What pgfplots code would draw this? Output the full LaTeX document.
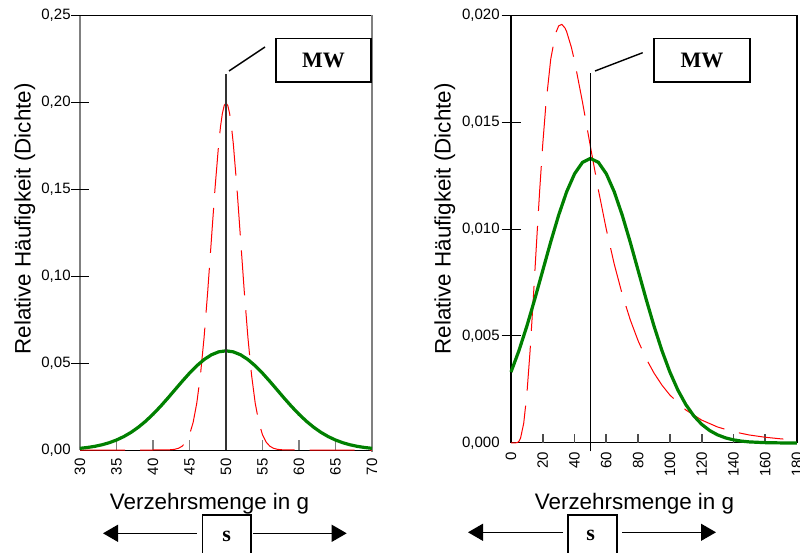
\documentclass[border=0pt]{standalone}
\usepackage{fontspec}
\setmainfont{Liberation Sans}
\newfontfamily\tnr{Liberation Serif}
\usepackage{pgfplots}
\pgfplotsset{compat=1.18}
\usetikzlibrary{arrows.meta}
\definecolor{dgreen}{RGB}{0,128,0}
\definecolor{fgray}{RGB}{128,128,128}

\pgfplotstableread{
x y
30 0.000962
31 0.001432
32 0.002089
33 0.002986
34 0.004181
35 0.005737
36 0.007713
37 0.010159
38 0.013112
39 0.016580
40 0.020542
41 0.024938
42 0.029661
43 0.034567
44 0.039470
45 0.044159
46 0.048407
47 0.051991
48 0.054711
49 0.056413
50 0.056991
51 0.056413
52 0.054711
53 0.051991
54 0.048407
55 0.044159
56 0.039470
57 0.034567
58 0.029661
59 0.024938
60 0.020542
61 0.016580
62 0.013112
63 0.010159
64 0.007713
65 0.005737
66 0.004181
67 0.002986
68 0.002089
69 0.001432
70 0.000962
}\leftgreen

\pgfplotstableread{
x y
30 0
35 0
40 0
41 0.000008
42 0.000067
42.5 0.000176
43 0.000436
43.5 0.001015
44 0.002216
44.5 0.004547
45 0.008764
45.5 0.015870
46 0.026995
46.5 0.043139
47 0.064759
47.5 0.091325
48 0.120985
48.5 0.150569
49 0.176033
49.25 0.185927
49.5 0.193334
49.75 0.197919
50 0.199471
50.25 0.197919
50.5 0.193334
50.75 0.185927
51 0.176033
51.5 0.150569
52 0.120985
52.5 0.091325
53 0.064759
53.5 0.043139
54 0.026995
54.5 0.015870
55 0.008764
55.5 0.004547
56 0.002216
56.5 0.001015
57 0.000436
57.5 0.000176
58 0.000067
59 0.000008
60 0
65 0
70 0
}\leftred

\pgfplotstableread{
x y
0 0.003316
5 0.004317
10 0.005467
15 0.006733
20 0.008066
25 0.009397
30 0.010648
35 0.011735
40 0.012579
45 0.013115
50 0.013298
55 0.013115
60 0.012579
65 0.011735
70 0.010648
75 0.009397
80 0.008066
85 0.006733
90 0.005467
95 0.004317
100 0.003316
105 0.002477
110 0.001800
115 0.001272
120 0.000874
125 0.000584
130 0.000380
135 0.000240
140 0.000148
145 0.000088
150 0.000051
160 0.000016
170 0.000004
180 0.000001
}\rightgreen

\pgfplotstableread{
x y
0 0
2 0
4 0.000019
5 0.000079
6 0.000223
8 0.000919
10 0.002294
12 0.004293
14 0.006703
16 0.009263
18 0.011743
20 0.013975
22 0.015856
25 0.017931
28 0.019127
30 0.019491
32 0.019562
34 0.019389
35 0.019225
38 0.018490
40 0.017846
45 0.015927
50 0.013846
55 0.011826
60 0.009979
65 0.008352
70 0.006953
75 0.005769
80 0.004777
85 0.003952
90 0.003269
95 0.002705
100 0.002241
110 0.001544
120 0.001071
130 0.000748
140 0.000527
150 0.000374
160 0.000268
170 0.000193
180 0.000141
}\rightred

\pgfplotsset{
  myaxis/.style={
    scale only axis, anchor=south west,
    axis x line*=bottom, axis y line*=left,
    enlargelimits=false, clip=false,
    major tick length=0pt,
    tick style={draw=none},
    scaled x ticks=false, scaled y ticks=false,
    tick label style={font=\fontsize{7.5}{9}\selectfont},
    /pgf/number format/assume math mode=true,
    xticklabel style={rotate=90, anchor=east, inner sep=0pt},
    yticklabel style={anchor=east, inner sep=0pt,
      /pgf/number format/fixed, /pgf/number format/fixed zerofill,
      /pgf/number format/use comma},
  },
  redcurve/.style={red, line width=0.5pt, dash pattern=on 22.5pt off 7.5pt},
  greencurve/.style={dgreen, line width=1.6pt},
}

\begin{document}
\begin{tikzpicture}[x=0.5pt,y=0.5pt]
\coordinate (A1) at (80,103);
\coordinate (A2) at (511,110);

% ---------- left chart ----------
\begin{axis}[myaxis, at={(A1)}, width=146pt, height=217.5pt,
  xmin=30, xmax=70, ymin=0, ymax=0.25,
  xtick={30,35,40,45,50,55,60,65,70},
  ytick={0,0.05,0.1,0.15,0.2,0.25},
  yticklabel style={/pgf/number format/precision=2},
  xticklabel shift=4pt, yticklabel shift=4.5pt,
  x axis line style={black, line width=0.5pt},
  y axis line style={draw=none}]
\draw[fgray, line width=1pt] (rel axis cs:0,0) -- (rel axis cs:0,1);
\draw[black, line width=0.5pt] (rel axis cs:0,1) -- (rel axis cs:1,1);
\draw[fgray, line width=1pt] ([yshift=-1pt]rel axis cs:1,0) -- (rel axis cs:1,1);
\pgfplotsinvokeforeach{35,40,45,55,60,65}{
  \draw[fgray, line width=0.9pt] (axis cs:#1,0) -- ([yshift=5pt]axis cs:#1,0);}
\pgfplotsinvokeforeach{0.05,0.1,0.15,0.2,0.25}{
  \draw[black, line width=0.5pt] ([xshift=-4.25pt]axis cs:30,#1) -- ([xshift=4.25pt]axis cs:30,#1);}
\addplot[redcurve] table[x=x,y=y] {\leftred};
\addplot[greencurve] table[x=x,y=y] {\leftgreen};
\addplot[black!80, line width=1pt] coordinates {(50,0) (50,0.2163)};
\end{axis}

% ---------- right chart ----------
\begin{axis}[myaxis, at={(A2)}, width=143pt, height=214pt,
  xmin=0, xmax=180, ymin=0, ymax=0.02,
  xtick={0,20,40,60,80,100,120,140,160,180},
  ytick={0,0.005,0.01,0.015,0.02},
  yticklabel style={/pgf/number format/precision=3},
  xticklabel shift=4.2pt, yticklabel shift=5.5pt,
  x axis line style={black, line width=0.5pt},
  y axis line style={black, line width=0.7pt}]
\draw[black, line width=0.5pt] (rel axis cs:0,1) -- (rel axis cs:1,1);
\draw[black, line width=0.7pt] (rel axis cs:1,0) -- (rel axis cs:1,1);
\pgfplotsinvokeforeach{20,40,60,80,100,120,140,160}{
  \draw[black!70, line width=0.9pt] (axis cs:#1,0) -- ([yshift=4.5pt]axis cs:#1,0);}
\pgfplotsinvokeforeach{0.005,0.01,0.015,0.02}{
  \draw[black, line width=0.5pt] ([xshift=-4.75pt]axis cs:0,#1) -- ([xshift=4.75pt]axis cs:0,#1);}
\addplot[redcurve] table[x=x,y=y] {\rightred};
\addplot[greencurve] table[x=x,y=y] {\rightgreen};
\addplot[black, line width=0.9pt] coordinates {(50,-0.00039) (50,0.01729)};
\end{axis}

% ---------- labels ----------
\node[font=\fontsize{11.2}{13}\selectfont, anchor=base, inner sep=0pt] at (209.5,43) {Verzehrsmenge in g};
\node[font=\fontsize{11.2}{13}\selectfont, anchor=base, inner sep=0pt] at (634.5,43) {Verzehrsmenge in g};
\node[font=\fontsize{11.2}{13}\selectfont, rotate=90, anchor=base west, inner sep=0pt] at (30.7,198) {Relative Häufigkeit (Dichte)};
\node[font=\fontsize{11.2}{13}\selectfont, rotate=90, anchor=base west, inner sep=0pt] at (450.7,198) {Relative Häufigkeit (Dichte)};

% ---------- MW annotations ----------
\draw[line width=0.75pt] (276,471) rectangle (371,514.3);
\node[font=\tnr\bfseries\fontsize{11}{13}\selectfont] at (323.5,492.7) {MW};
\draw[line width=0.7pt] (229,482) -- (265,506);
\draw[line width=0.75pt] (654,471) rectangle (750,514.3);
\node[font=\tnr\bfseries\fontsize{11}{13}\selectfont] at (702,492.7) {MW};
\draw[line width=0.7pt] (595,482) -- (642.7,500.3);

% ---------- s annotations ----------
\draw[line width=0.75pt] (202.7,-5) -- (202.7,38) -- (251,38) -- (251,-5);
\node[font=\tnr\bfseries\fontsize{11}{13}\selectfont] at (226.7,17) {s};
\draw[line width=0.6pt, -{Triangle[length=7.5pt,width=8.5pt]}] (196.7,19.7) -- (103,19.7);
\draw[line width=0.6pt, -{Triangle[length=7.5pt,width=8.5pt]}] (253,19.7) -- (346.7,19.7);
\draw[line width=0.75pt] (568,-5) -- (568,38) -- (617,38) -- (617,-5);
\node[font=\tnr\bfseries\fontsize{11}{13}\selectfont] at (590.7,18) {s};
\draw[line width=0.6pt, -{Triangle[length=7.5pt,width=8.5pt]}] (563,20.7) -- (468,20.7);
\draw[line width=0.6pt, -{Triangle[length=7.5pt,width=8.5pt]}] (622,20.7) -- (716,20.7);

\pgfresetboundingbox
\useasboundingbox (0,0) rectangle (800,553);
\end{tikzpicture}
\end{document}
